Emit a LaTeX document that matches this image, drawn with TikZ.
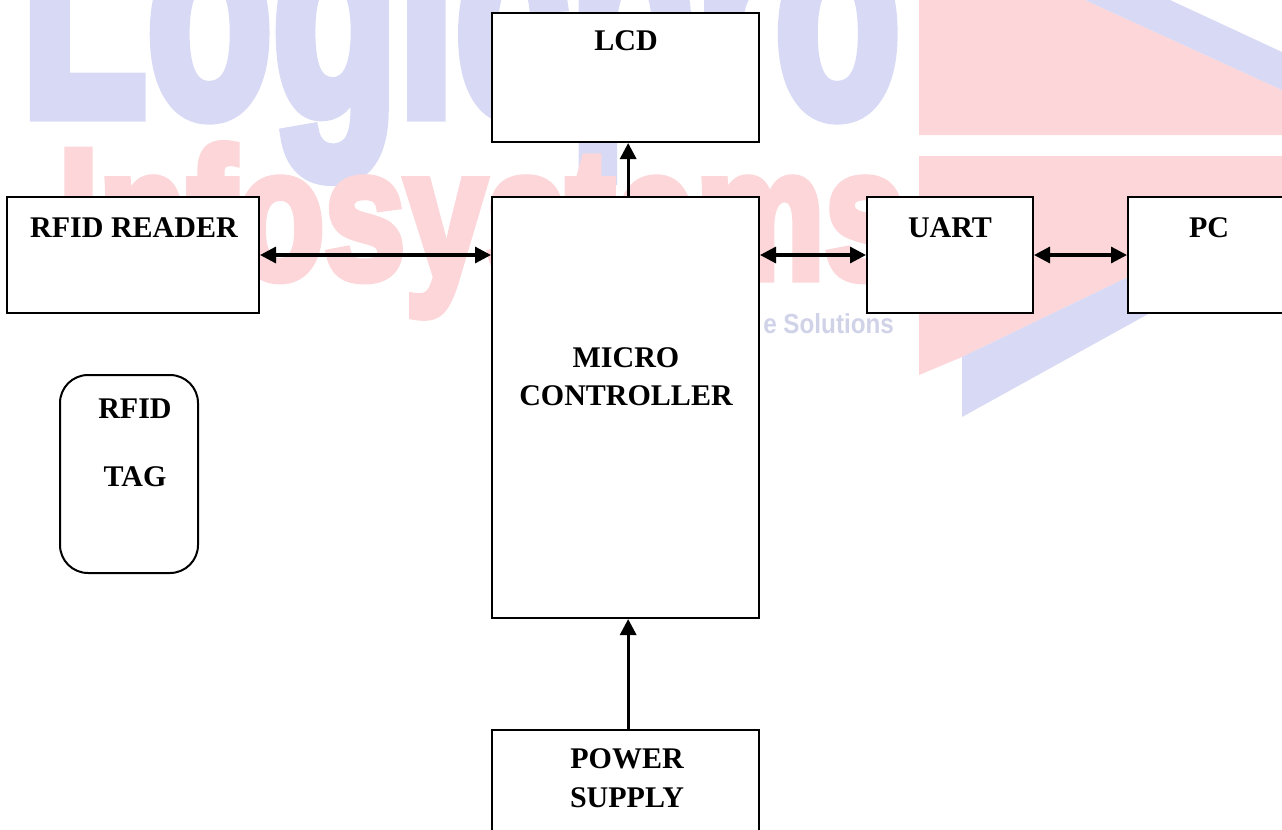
\documentclass[tikz,border=0pt]{standalone}
\usepackage{graphicx}
\usepackage{fontspec}
\setmainfont{Liberation Serif}
\newfontfamily\wmfont[FakeBold=5]{Liberation Sans Bold}
\usetikzlibrary{arrows.meta,calc}
\definecolor{wmblue}{RGB}{216,218,245}
\definecolor{wmred}{RGB}{252,214,216}
\definecolor{wmgrey}{RGB}{208,210,232}
\tikzset{
	blockbox/.style={draw=black,line width=1.5pt,fill=white,inner sep=0pt},
	blocktxt/.style={font=\fontsize{22.5}{28.5}\selectfont\bfseries,align=center,inner sep=0pt},
	wmtxt/.style={inner sep=0pt,anchor=base west},
	link/.style={line width=2.4pt,-{Triangle[length=12pt,width=12pt]}},
	dlink/.style={line width=2.4pt,{Triangle[length=12pt,width=12pt]}-{Triangle[length=12pt,width=12pt]}}
}
\begin{document}
\begin{tikzpicture}[x=0.75pt,y=-0.75pt]
	\useasboundingbox (0,0) rectangle (1282,829);
	\clip (0,0) rectangle (1282,829);
	% watermark
	\fill[wmred] (919,0)--(1085,0)--(1282,90)--(1282,135)--(919,135)--cycle;
	\fill[wmred] (919,156)--(1282,156)--(1282,203)--(1128,277)--(962,357)--(919,375)--cycle;
	\fill[wmblue] (1085,0)--(1170,0)--(1282,52)--(1282,90)--cycle;
	\fill[wmblue] (962,357)--(1128,277)--(1282,203)--(1282,240)--(962,417)--cycle;
	\node[wmtxt,wmblue] (wmlogic) at (21,114) {\resizebox{659pt}{165pt}{\wmfont Logicpro}};
	\node[wmtxt,wmred] (wminfo) at (58,278) {\resizebox{635pt}{100pt}{\wmfont Infosystems}};
	\node[wmtxt,wmgrey] (wmsol) at (763,333) {\resizebox{98pt}{15pt}{\sffamily\bfseries\fontspec{Liberation Sans} e Solutions}};
	% blocks
	\node[blockbox,minimum width=200.25pt,minimum height=96.75pt] (lcd) at (625.5,77.5) {};
	\node[blockbox,minimum width=200.25pt,minimum height=315.75pt] (micro) at (625.5,407.5) {};
	\node[blockbox,minimum width=189pt,minimum height=87pt] (reader) at (133,255) {};
	\node[blockbox,minimum width=124.5pt,minimum height=87pt] (uart) at (950,255) {};
	\node[blockbox,minimum width=121.5pt,minimum height=87pt] (pc) at (1209,255) {};
	\node[blockbox,minimum width=200.25pt,minimum height=90pt] (power) at (625.5,790) {};
	\node[blockbox,rounded corners=21pt,minimum width=103.5pt,minimum height=148.5pt] (tag) at (129,474) {};
	% labels
	\node[blocktxt,anchor=base] (lcdtxt) at (626,50) {LCD};
	\node[blocktxt,anchor=base] (readertxt) at (134,237) {RFID READER};
	\node[blocktxt,anchor=base] (uarttxt) at (950,237) {UART};
	\node[blocktxt,anchor=base] (pctxt) at (1209,237) {PC};
	\node[blocktxt,anchor=base] (microtxt) at (626,367) {MICRO};
	\node[blocktxt,anchor=base] (ctrltxt) at (626,405) {CONTROLLER};
	\node[blocktxt,anchor=base] (rfidtxt) at (135,418) {RFID};
	\node[blocktxt,anchor=base] (tagtxt) at (135,486) {TAG};
	\node[blocktxt,anchor=base] (powertxt) at (627,768) {POWER};
	\node[blocktxt,anchor=base] (supplytxt) at (627,807) {SUPPLY};
	% links
	\draw[link] ([xshift=2pt]micro.north) -- ([xshift=2pt]lcd.south);
	\draw[link] ([xshift=2pt]power.north) -- ([xshift=2pt]micro.south);
	\draw[dlink] (reader.east) -- (reader.east -| micro.west);
	\draw[dlink] (uart.west -| micro.east) -- (uart.west);
	\draw[dlink] (uart.east) -- (pc.west);
\end{tikzpicture}
\end{document}
